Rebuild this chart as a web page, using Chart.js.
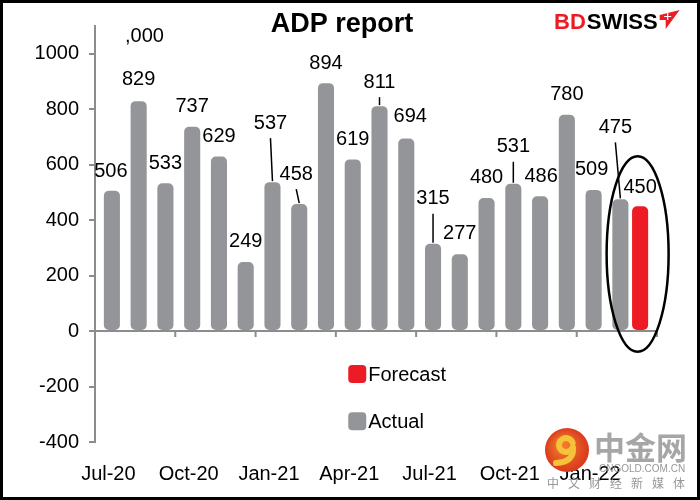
<!DOCTYPE html>
<html lang="en">
<head>
    <meta charset="UTF-8">
    <title>ADP report</title>
    <script src="https://cdn.jsdelivr.net/npm/chart.js"></script>
    <style>
        body {
            margin: 0;
            padding: 0;
            background-color: white;
        }
        canvas {
            display: block;
        }
    </style>
</head>
<body>
    <canvas id="chart" width="700" height="500"></canvas>

    <script>
        // Donnees (milliers d'emplois)
        const months = ['Jul-20', 'Aug-20', 'Sep-20', 'Oct-20', 'Nov-20', 'Dec-20',
                        'Jan-21', 'Feb-21', 'Mar-21', 'Apr-21', 'May-21', 'Jun-21',
                        'Jul-21', 'Aug-21', 'Sep-21', 'Oct-21', 'Nov-21', 'Dec-21',
                        'Jan-22', 'Feb-22', 'Mar-22'];
        const actual = [506, 829, 533, 737, 629, 249, 537, 458, 894, 619, 811, 694,
                        315, 277, 480, 531, 486, 780, 509, 475, null];
        const forecast = [null, null, null, null, null, null, null, null, null, null, null, null,
                          null, null, null, null, null, null, null, null, 450];
        const yTicks = [-400, -200, 0, 200, 400, 600, 800, 1000];

        const GREY = '#939598';
        const RED = '#ED1C24';
        const AXIS = '#8c8c8c';
        const FONT = '"Liberation Sans", Arial, sans-serif';

        Chart.defaults.font.family = FONT;
        Chart.defaults.color = '#000';

        // Etiquettes de valeur (avec traits de rappel comme dans Excel)
        const valueLabels = {
            id: 'valueLabels',
            afterDatasetsDraw(chart, args, opts) {
                const ctx = chart.ctx;
                const y = chart.scales.y;
                ctx.save();
                ctx.font = '20px ' + FONT;
                ctx.fillStyle = '#000';
                ctx.textAlign = 'center';
                ctx.textBaseline = 'middle';
                ctx.strokeStyle = '#000';
                ctx.lineWidth = 1.5;
                chart.data.datasets.forEach((ds, d) => {
                    const meta = chart.getDatasetMeta(d);
                    meta.data.forEach((el, i) => {
                        const v = ds.data[i];
                        if (v === null) return;
                        const lift = opts.lift[i];
                        const tx = el.x + opts.shift[i];
                        const ty = y.getPixelForValue(v) - lift;
                        ctx.fillText(String(v), tx, ty);
                        if (lift >= 24) {
                            ctx.beginPath();
                            ctx.moveTo(tx, ty + 15);
                            ctx.lineTo(el.x, el.y - 1);
                            ctx.stroke();
                        }
                    });
                });
                ctx.restore();
            }
        };

        // Axe horizontal a zero, legende, ellipse, titre, logos, cadre
        const decorations = {
            id: 'decorations',
            afterDatasetsDraw(chart) {
                const ctx = chart.ctx;
                const x = chart.scales.x;
                const y = chart.scales.y;
                const area = chart.chartArea;
                const y0 = y.getPixelForValue(0);
                ctx.save();

                // ligne du zero + graduations tous les 3 mois
                ctx.strokeStyle = AXIS;
                ctx.lineWidth = 2;
                ctx.beginPath();
                ctx.moveTo(area.left - 6, y0);
                ctx.lineTo(area.right, y0);
                const slot = (area.right - area.left) / months.length;
                for (let k = 3; k <= months.length; k += 3) {
                    const px = area.left + slot * k;
                    ctx.moveTo(px, y0);
                    ctx.lineTo(px, y0 + 6);
                }
                ctx.stroke();

                // ellipse autour de la prevision
                const last = months.length - 1;
                const cx = x.getPixelForValue(last) - 6;
                const top = y.getPixelForValue(630);
                const bottom = y.getPixelForValue(-75);
                ctx.strokeStyle = '#000';
                ctx.lineWidth = 2.5;
                ctx.beginPath();
                ctx.ellipse(cx, (top + bottom) / 2, 31, (bottom - top) / 2, 0, 0, Math.PI * 2);
                ctx.stroke();

                // legende
                const lx = x.getPixelForValue(9) - 1;
                const items = [
                    { text: 'Forecast', color: RED, v: -155 },
                    { text: 'Actual', color: GREY, v: -325 }
                ];
                ctx.font = '20px ' + FONT;
                ctx.textBaseline = 'middle';
                ctx.textAlign = 'left';
                items.forEach(it => {
                    const py = y.getPixelForValue(it.v);
                    ctx.fillStyle = it.color;
                    ctx.beginPath();
                    ctx.roundRect(lx, py - 9, 18, 18, 4);
                    ctx.fill();
                    ctx.fillStyle = '#000';
                    ctx.fillText(it.text, lx + 20, py + 1);
                });
                ctx.restore();
            },
            afterDraw(chart) {
                const ctx = chart.ctx;
                ctx.save();

                // titre
                ctx.fillStyle = '#000';
                ctx.textAlign = 'center';
                ctx.textBaseline = 'alphabetic';
                ctx.font = 'bold 27px ' + FONT;
                ctx.fillText('ADP report', 342, 32);

                // unite
                ctx.textAlign = 'left';
                ctx.font = '20px ' + FONT;
                ctx.fillText(',000', 125, 42);

                // logo BDSWISS
                ctx.font = 'bold 22px ' + FONT;
                ctx.fillStyle = RED;
                ctx.fillText('BD', 554, 29);
                const bw = ctx.measureText('BD').width;
                ctx.fillStyle = '#000';
                ctx.fillText('SWISS', 554 + bw + 1, 29);
                const sw = ctx.measureText('SWISS').width;
                const ax = 554 + bw + 3 + sw;
                ctx.fillStyle = RED;
                ctx.beginPath();
                ctx.moveTo(ax, 15);
                ctx.lineTo(ax + 20, 10);
                ctx.lineTo(ax + 6, 29);
                ctx.lineTo(ax + 6, 20);
                ctx.lineTo(ax, 20);
                ctx.closePath();
                ctx.fill();
                ctx.strokeStyle = '#fff';
                ctx.lineWidth = 1.2;
                ctx.beginPath();
                ctx.moveTo(ax + 8, 13);
                ctx.lineTo(ax + 8, 20);
                ctx.moveTo(ax + 4.5, 16.5);
                ctx.lineTo(ax + 11.5, 16.5);
                ctx.stroke();

                // filigrane
                const g = ctx.createRadialGradient(562, 444, 4, 567, 450, 23);
                g.addColorStop(0, '#f07a2a');
                g.addColorStop(1, '#d8361c');
                ctx.fillStyle = g;
                ctx.beginPath();
                ctx.arc(567, 450, 22, 0, Math.PI * 2);
                ctx.fill();
                ctx.strokeStyle = '#f6c23a';
                ctx.lineWidth = 6;
                ctx.lineCap = 'round';
                ctx.beginPath();
                ctx.arc(566, 445, 7, 0.3, Math.PI * 1.9);
                ctx.stroke();
                ctx.beginPath();
                ctx.moveTo(573, 448);
                ctx.quadraticCurveTo(574, 462, 556, 463);
                ctx.stroke();

                ctx.fillStyle = 'rgba(150,150,150,0.85)';
                ctx.font = 'bold 31px "Noto Sans CJK SC", sans-serif';
                ctx.textBaseline = 'middle';
                ctx.fillText('中金网', 594, 447);
                ctx.font = '10px ' + FONT;
                ctx.fillStyle = 'rgba(140,140,140,0.9)';
                ctx.fillText('CNGOLD.COM.CN', 599, 469);
                ctx.font = '12px "Noto Sans CJK SC", sans-serif';
                const tag = ['中', '文', '财', '经', '新', '媒', '体'];
                tag.forEach((c, k) => ctx.fillText(c, 547 + k * 21, 483));

                // cadre
                ctx.strokeStyle = '#000';
                ctx.lineWidth = 3;
                ctx.strokeRect(1.5, 1.5, 697, 497);
                ctx.restore();
            }
        };

        new Chart(document.getElementById('chart'), {
            type: 'bar',
            data: {
                labels: months,
                datasets: [
                    {
                        label: 'Forecast',
                        data: forecast,
                        backgroundColor: RED,
                        borderRadius: 5,
                        borderSkipped: false,
                        categoryPercentage: 0.525,
                        barPercentage: 2.29
                    },
                    {
                        label: 'Actual',
                        data: actual,
                        backgroundColor: GREY,
                        borderRadius: 5,
                        borderSkipped: false,
                        categoryPercentage: 0.525,
                        barPercentage: 2.29
                    }
                ]
            },
            options: {
                responsive: false,
                animation: false,
                devicePixelRatio: 1,
                layout: {
                    padding: { top: 26, right: 43, bottom: 0, left: 0 }
                },
                plugins: {
                    legend: { display: false },
                    title: { display: false },
                    tooltip: { enabled: false },
                    valueLabels: {
                        lift: [19, 22, 20, 20, 20, 21, 59, 30, 20, 20, 24, 22,
                               45, 21, 20, 37, 20, 20, 20, 72, 19],
                        shift: [-1, 0, 0, 0, 0, 0, -2, -3, 0, 0, 0, 4,
                                0, 0, 0, 0, 1, 0, -2, -5, 0]
                    }
                },
                scales: {
                    x: {
                        grid: { display: false },
                        border: { display: false },
                        ticks: {
                            autoSkip: false,
                            maxRotation: 0,
                            padding: 12,
                            font: { size: 20 },
                            callback: (v, i) => (i % 3 === 0 ? months[i] : '')
                        },
                        afterFit: s => { s.height = 58; }
                    },
                    y: {
                        min: -400,
                        max: 1100,
                        afterBuildTicks: s => { s.ticks = yTicks.map(v => ({ value: v })); },
                        grid: {
                            drawOnChartArea: false,
                            drawTicks: true,
                            tickLength: 6,
                            color: AXIS,
                            lineWidth: 2
                        },
                        border: { display: true, color: AXIS, width: 2 },
                        ticks: {
                            padding: 10,
                            font: { size: 20 },
                            callback: v => String(v)
                        },
                        afterFit: s => { s.width = 95; }
                    }
                }
            },
            plugins: [valueLabels, decorations]
        });
    </script>
</body>
</html>
